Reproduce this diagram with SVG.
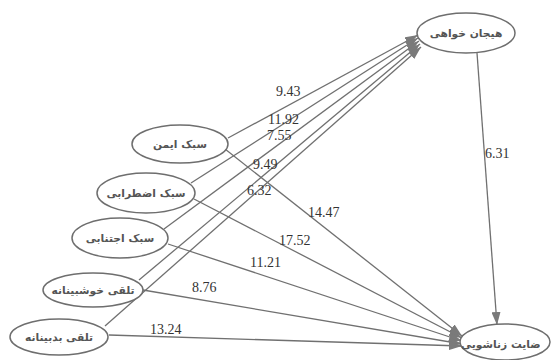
<svg xmlns="http://www.w3.org/2000/svg" width="551" height="360" viewBox="0 0 551 360">
<defs>
<style>
.node ellipse{fill:#fff;stroke:#6e6e6e;stroke-width:1.5}
.node text{font-family:"DejaVu Sans",sans-serif;font-size:10.7px;font-weight:bold;fill:#555;text-anchor:middle}
.edge{stroke:#707070;stroke-width:1.3;fill:none;marker-end:url(#ah)}
.lbl{font-family:"Liberation Serif",serif;font-size:14px;fill:#333}
</style>
<marker id="ah" viewBox="0 0 13 9" refX="13" refY="4.5" markerWidth="13" markerHeight="9" markerUnits="userSpaceOnUse" orient="auto">
<path d="M0,0 L13,4.5 L0,9 Z" fill="#7a7a7a"/>
</marker>
<clipPath id="cb"><rect x="455" y="320" width="85" height="40"/></clipPath>
</defs>
<rect width="551" height="360" fill="#fff"/>
<g id="connectors">
<line class="edge" x1="228" y1="138" x2="418" y2="35"/>
<line class="edge" x1="191" y1="183" x2="418" y2="38"/>
<line class="edge" x1="164" y1="229" x2="419" y2="41"/>
<line class="edge" x1="139" y1="280" x2="420" y2="44"/>
<line class="edge" x1="105" y1="326" x2="421" y2="47"/>
<line class="edge" x1="225" y1="149" x2="462" y2="336"/>
<line class="edge" x1="194" y1="199" x2="462" y2="338"/>
<line class="edge" x1="168" y1="244" x2="462" y2="341"/>
<line class="edge" x1="143" y1="290" x2="462" y2="344"/>
<line class="edge" x1="109" y1="335" x2="462" y2="346"/>
<line class="edge" x1="477" y1="53" x2="497" y2="325"/>
<text class="lbl" x="276" y="96">9.43</text>
<text class="lbl" x="268" y="124">11.92</text>
<text class="lbl" x="267" y="140">7.55</text>
<text class="lbl" x="253" y="169">9.49</text>
<text class="lbl" x="247" y="195">6.32</text>
<text class="lbl" x="308" y="217">14.47</text>
<text class="lbl" x="279" y="245">17.52</text>
<text class="lbl" x="250" y="267">11.21</text>
<text class="lbl" x="192" y="292">8.76</text>
<text class="lbl" x="150" y="334">13.24</text>
<text class="lbl" x="485" y="158">6.31</text>
</g>
<g id="n-hayajan" class="node"><ellipse cx="466" cy="33" rx="49" ry="20"/><text x="466" y="37">هیجان خواهی</text></g>
<g id="n-rezayat" class="node"><ellipse cx="505" cy="342" rx="45" ry="18"/><text x="461" y="348" style="text-anchor:start" clip-path="url(#cb)">رضایت زناشویی</text></g>
<g id="n-iman" class="node"><ellipse cx="180" cy="144" rx="48" ry="19"/><text x="180" y="148">سبک ایمن</text></g>
<g id="n-ezterabi" class="node"><ellipse cx="146" cy="193" rx="49" ry="20"/><text x="146" y="197">سبک اضطرابی</text></g>
<g id="n-ejtenabi" class="node"><ellipse cx="120" cy="238" rx="48" ry="20"/><text x="120" y="242">سبک اجتنابی</text></g>
<g id="n-khoshbin" class="node"><ellipse cx="93" cy="290" rx="50" ry="17"/><text x="93" y="294">تلقی خوشبینانه</text></g>
<g id="n-badbin" class="node"><ellipse cx="59" cy="337" rx="49" ry="18"/><text x="59" y="341">تلقی بدبینانه</text></g>
</svg>
